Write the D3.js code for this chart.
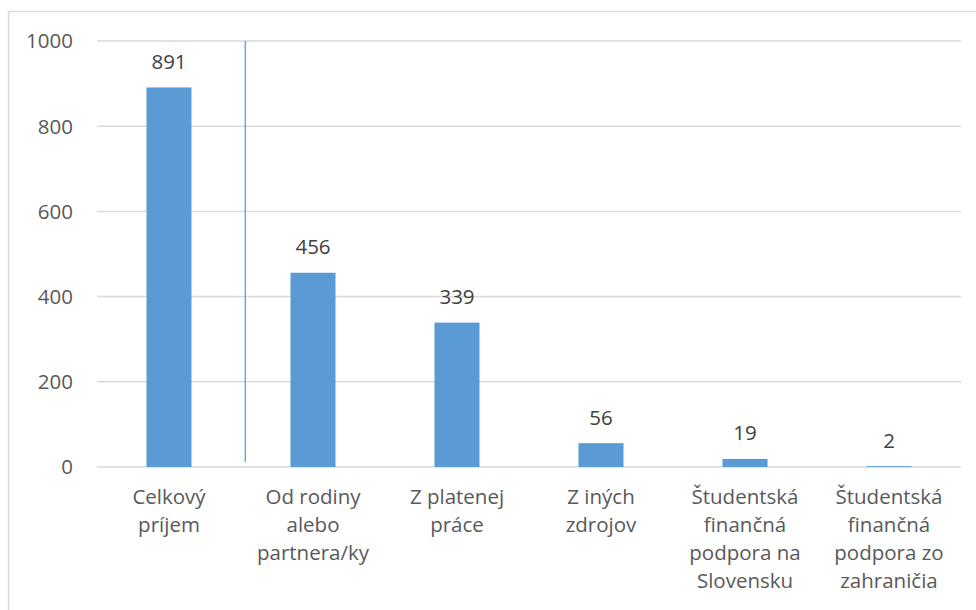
<!DOCTYPE html>
<html><head><meta charset="utf-8">
<script src="https://cdn.jsdelivr.net/npm/d3@7"></script>
<style>body{margin:0;background:#fff}svg{display:block}text{font-family:"Open Sans",sans-serif;fill:#595959}</style>
</head><body><svg id="c" width="976" height="610"></svg>
<script>
const categories = [["Celkový","príjem"],["Od rodiny","alebo","partnera/ky"],["Z platenej","práce"],["Z iných","zdrojov"],["Študentská","finančná","podpora na","Slovensku"],["Študentská","finančná","podpora zo","zahraničia"]];
const values = [891,456,339,56,19,2];
const yTicks = [0,200,400,600,800,1000];

const svg = d3.select("#c");
svg.append("rect").attr("x",8.5).attr("y",11.5).attr("width",980).attr("height",620)
  .attr("fill","#fff").attr("stroke","#d9d9d9").attr("stroke-width",1.5);

const x = d3.scaleBand().domain(d3.range(values.length)).range([97,961]).paddingInner(0.6875).paddingOuter(0.34375);
const y = d3.scaleLinear().domain([0,1000]).range([467,41]);

svg.append("g").selectAll("line").data(yTicks).join("line")
  .attr("x1",97).attr("x2",961).attr("y1",d=>y(d)).attr("y2",d=>y(d))
  .attr("stroke","#d9d9d9").attr("stroke-width",1.5);

svg.append("g").selectAll("text").data(yTicks).join("text")
  .attr("x",73).attr("y",d=>y(d)).attr("dy","0.36em").attr("text-anchor","end")
  .attr("font-size",20.5).text(d=>d);

svg.append("g").selectAll("rect").data(values).join("rect")
  .attr("x",(d,i)=>x(i)).attr("width",x.bandwidth())
  .attr("y",d=>y(d)).attr("height",d=>y(0)-y(d)).attr("fill","#5b9bd5");

svg.append("g").selectAll("text").data(values).join("text")
  .attr("x",(d,i)=>x(i)+x.bandwidth()/2).attr("y",d=>y(d)-26).attr("dy","0.36em")
  .attr("text-anchor","middle").attr("font-size",20.5).style("fill","#404040").text(d=>d);

const step = x.step();
svg.append("line").attr("x1",97+step*1.03).attr("x2",97+step*1.03)
  .attr("y1",y(1000)).attr("y2",y(12)).attr("stroke","#6fa8dc").attr("stroke-width",1.5);

const lab = svg.append("g").selectAll("text").data(categories).join("text")
  .attr("text-anchor","middle").attr("font-size",20.5);
lab.each(function(lines,i){
  const t = d3.select(this);
  lines.forEach((l,j)=>{
    t.append("tspan").attr("x",x(i)+x.bandwidth()/2).attr("y",497+j*28).attr("dy","0.36em").text(l);
  });
});
</script></body></html>
